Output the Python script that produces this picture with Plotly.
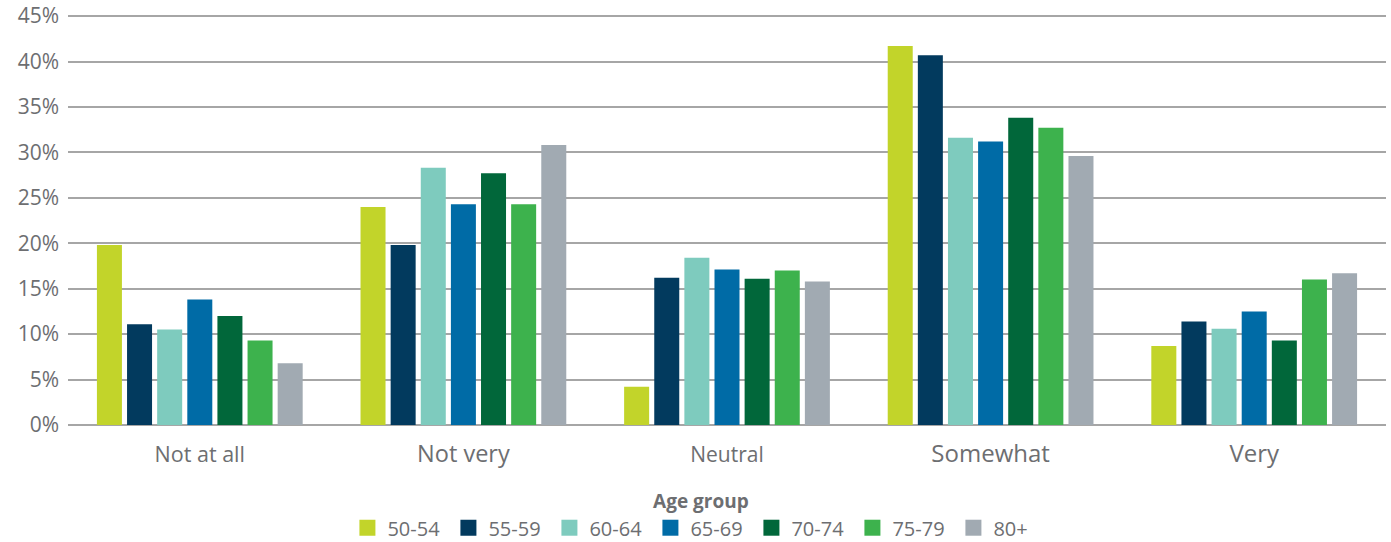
import plotly.graph_objects as go

categories = ["Not at all", "Not very", "Neutral", "Somewhat", "Very"]
category_label_sizes = [21.5, 23.5, 21, 24, 24]
age_groups = ["50-54", "55-59", "60-64", "65-69", "70-74", "75-79", "80+"]

v_50_54 = [19.8, 24.0, 4.2, 41.7, 8.7]
v_55_59 = [11.1, 19.8, 16.2, 40.7, 11.4]
v_60_64 = [10.5, 28.3, 18.4, 31.6, 10.6]
v_65_69 = [13.8, 24.3, 17.1, 31.2, 12.5]
v_70_74 = [12.0, 27.7, 16.1, 33.8, 9.3]
v_75_79 = [9.3, 24.3, 17.0, 32.7, 16.0]
v_80p = [6.8, 30.8, 15.8, 29.6, 16.7]

series = [v_50_54, v_55_59, v_60_64, v_65_69, v_70_74, v_75_79, v_80p]
colors = ["#C2D42A", "#023A5E", "#7ECBBE", "#006BA6", "#01673A", "#3DB24D", "#A1AAB2"]

y_ticks = [0, 5, 10, 15, 20, 25, 30, 35, 40, 45]
y_labels = [f"{t}%" for t in y_ticks]

text_color = "#6d6e71"
font_family = "Open Sans, Noto Sans, sans-serif"

fig = go.Figure()
for name, vals, col in zip(age_groups, series, colors):
    fig.add_trace(go.Bar(x=categories, y=vals, name=name, showlegend=False,
                         marker=dict(color=col, line=dict(width=0))))
# legend entries with larger square swatches
for name, col in zip(age_groups, colors):
    fig.add_trace(go.Scatter(x=[None], y=[None], mode="markers", name=name,
                             marker=dict(symbol="square", size=16, color=col),
                             hoverinfo="skip"))

tick_text = [f'<span style="font-size:{s}px">{c}</span>' for c, s in zip(categories, category_label_sizes)]

fig.update_layout(
    width=1391, height=542,
    barmode="group", bargap=0.2, bargroupgap=0.17,
    plot_bgcolor="white", paper_bgcolor="white",
    margin=dict(l=68, r=5, t=7, b=117, autoexpand=False),
    font=dict(family=font_family, color=text_color),
    showlegend=True,
    legend=dict(
        orientation="h", x=0.212, xanchor="left", y=-0.14, yanchor="top",
        title=dict(text="<b>Age group</b>", side="top center", font=dict(size=19, color=text_color)),
        font=dict(size=20, color=text_color),
        itemwidth=30, tracegroupgap=0, entrywidth=56,
    ),
    xaxis=dict(
        type="category",
        tickvals=categories, ticktext=tick_text,
        showgrid=False, showline=False, ticks="",
        tickfont=dict(size=22, color=text_color),
        ticklabelstandoff=14,
    ),
    yaxis=dict(
        range=[0, 46], tickvals=y_ticks, ticktext=y_labels,
        showgrid=True, gridcolor="#a6a6a6", gridwidth=2,
        zeroline=True, zerolinecolor="#a6a6a6", zerolinewidth=2,
        showline=False, ticks="",
        tickfont=dict(size=21, color=text_color),
        ticklabelstandoff=8, ticklabeloverflow="allow",
    ),
)

fig.write_html("out.html")
